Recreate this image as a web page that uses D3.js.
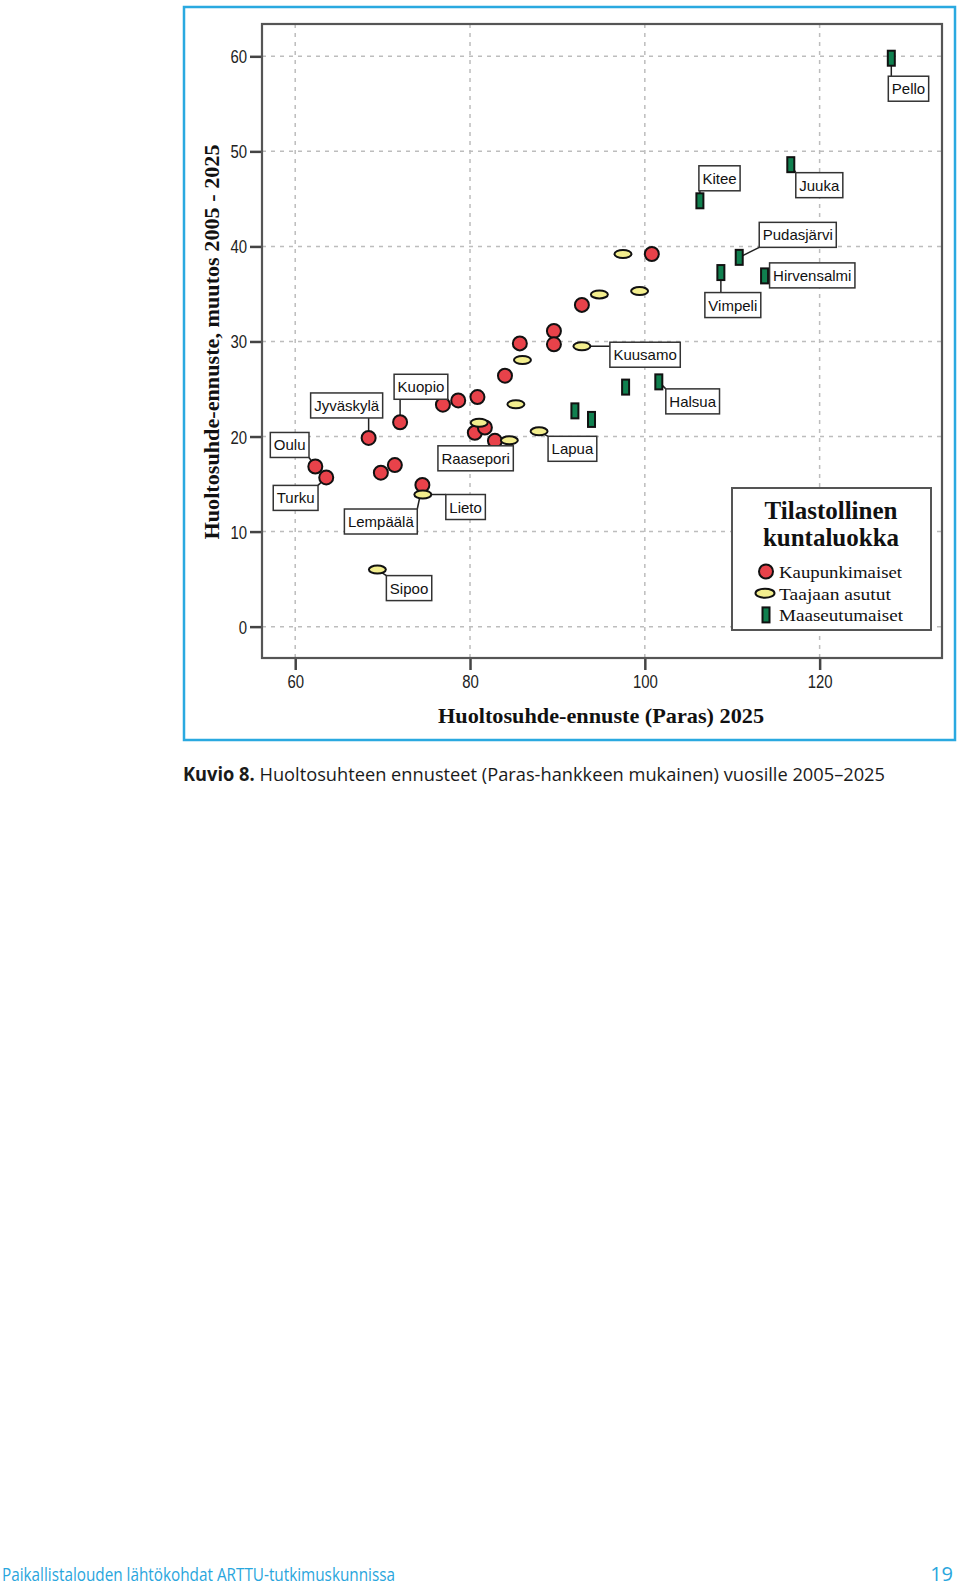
<!DOCTYPE html>
<html>
<head>
<meta charset="utf-8">
<script src="https://cdn.jsdelivr.net/npm/d3@7"></script>
<style>
  body { margin: 0; background: #fff; }
  svg { display: block; }
</style>
</head>
<body>
<div id="chart"></div>
<script>
// Kaupunkimaiset (red circles)
const urbanX = [62.3, 63.55, 68.4, 72.0, 69.8, 71.4, 74.55, 76.9, 78.65, 80.85, 80.55, 81.7, 82.85, 84.0, 85.7, 89.6, 89.6, 92.8, 100.8]
const urbanY = [16.85, 15.7, 19.85, 21.5, 16.2, 17.0, 14.9, 23.35, 23.8, 24.15, 20.4, 20.95, 19.55, 26.4, 29.8, 31.1, 29.7, 33.85, 39.2]
const urbanNames = ['Oulu', 'Turku', 'Jyväskylä', 'Kuopio', null, null, 'Lempäälä', null, null, null, null, null, 'Raasepori', null, null, null, null, null, null]

// Taajaan asutut (yellow ellipses)
const denseX = [69.4, 74.6, 81.05, 84.5, 85.25, 87.9, 86.0, 92.8, 94.8, 99.4, 97.5]
const denseY = [6.0, 13.9, 21.45, 19.6, 23.4, 20.55, 28.05, 29.5, 34.95, 35.3, 39.2]
const denseNames = ['Sipoo', 'Lieto', null, null, null, 'Lapua', null, 'Kuusamo', null, null, null]

// Maaseutumaiset (green bars)
const ruralX = [92.0, 93.9, 97.8, 101.6, 106.3, 108.7, 110.8, 113.7, 116.7, 128.2]
const ruralY = [22.7, 21.8, 25.2, 25.75, 44.8, 37.25, 38.85, 36.9, 48.6, 59.8]
const ruralNames = [null, null, null, 'Halsua', 'Kitee', 'Vimpeli', 'Pudasjärvi', 'Hirvensalmi', 'Juuka', 'Pello']

const xTicks = [60, 80, 100, 120]
const yTicks = [0, 10, 20, 30, 40, 50, 60]
const legendLabels = ['Kaupunkimaiset', 'Taajaan asutut', 'Maaseutumaiset']

// where each label box sits, relative to its point (px)
const labelPlace = {
  'Oulu': [-45, -34], 'Turku': [-53, 8], 'Jyväskylä': [-58, -45], 'Kuopio': [-6, -48],
  'Lempäälä': [-78, 24], 'Lieto': [23, 0], 'Sipoo': [9, 6], 'Raasepori': [-57, 5],
  'Lapua': [9, 5], 'Kuusamo': [28, -4], 'Halsua': [7, 7], 'Kitee': [-1, -35],
  'Juuka': [5, 8], 'Pudasjärvi': [20, -35], 'Vimpeli': [-16, 20], 'Hirvensalmi': [5, -13],
  'Pello': [-3, 18]
}

const W = 960, H = 1589
const plot = { left: 262, top: 24, right: 942, bottom: 658 }

const svg = d3.select('#chart').append('svg')
  .attr('width', W)
  .attr('height', H)
  .style('font-family', '"Liberation Sans", Arial, sans-serif')

// blue outer frame
svg.append('rect')
  .attr('x', 184).attr('y', 7).attr('width', 771).attr('height', 733)
  .attr('fill', 'none').attr('stroke', '#2aa9e0').attr('stroke-width', 2.5)

const x = d3.scaleLinear().domain([56.2, 134]).range([plot.left, plot.right])
const y = d3.scaleLinear().domain([-3.3, 63.4]).range([plot.bottom, plot.top])

// gridlines
const grid = svg.append('g')
grid.selectAll('.gx').data(xTicks).enter().append('line')
  .attr('x1', d => x(d)).attr('x2', d => x(d))
  .attr('y1', plot.top).attr('y2', plot.bottom)
  .attr('stroke', '#bdbdbd').attr('stroke-width', 1.5).attr('stroke-dasharray', '4,5')
grid.selectAll('.gy').data(yTicks).enter().append('line')
  .attr('x1', plot.left).attr('x2', plot.right)
  .attr('y1', d => y(d)).attr('y2', d => y(d))
  .attr('stroke', '#bdbdbd').attr('stroke-width', 1.5).attr('stroke-dasharray', '4,5')

// axes
const xAxis = svg.append('g')
  .attr('transform', 'translate(0,' + plot.bottom + ')')
  .call(d3.axisBottom(x).tickValues(xTicks).tickSize(12).tickPadding(5))
const yAxis = svg.append('g')
  .attr('transform', 'translate(' + plot.left + ',0)')
  .call(d3.axisLeft(y).tickValues(yTicks).tickSize(12).tickPadding(3))
;[xAxis, yAxis].forEach(a => {
  a.select('.domain').remove()
  a.selectAll('.tick line').attr('stroke', '#444').attr('stroke-width', 2.5)
  a.selectAll('.tick text')
    .attr('fill', '#222')
    .style('font-size', '18px')
    .style('font-family', '"Liberation Sans", Arial, sans-serif')
    .attr('textLength', d => String(d).length * 8.3)
    .attr('lengthAdjust', 'spacingAndGlyphs')
})
yAxis.selectAll('.tick text').attr('dy', '0.36em')

// plot frame
svg.append('rect')
  .attr('x', plot.left).attr('y', plot.top)
  .attr('width', plot.right - plot.left).attr('height', plot.bottom - plot.top)
  .attr('fill', 'none').attr('stroke', '#555').attr('stroke-width', 2.2)

// axis titles
svg.append('text')
  .attr('x', 601).attr('y', 723)
  .attr('text-anchor', 'middle')
  .attr('textLength', 326).attr('lengthAdjust', 'spacingAndGlyphs')
  .style('font-family', '"Liberation Serif", "Times New Roman", serif')
  .style('font-weight', 'bold').style('font-size', '22px').attr('fill', '#111')
  .text('Huoltosuhde-ennuste (Paras) 2025')

svg.append('text')
  .attr('transform', 'translate(219,342) rotate(-90)')
  .attr('text-anchor', 'middle')
  .attr('textLength', 395).attr('lengthAdjust', 'spacingAndGlyphs')
  .style('font-family', '"Liberation Serif", "Times New Roman", serif')
  .style('font-weight', 'bold').style('font-size', '22px').attr('fill', '#111')
  .text('Huoltosuhde-ennuste, muutos 2005 - 2025')

const leaderG = svg.append('g')
const markG = svg.append('g')
const labelG = svg.append('g')

const urban = urbanX.map((v, i) => ({ x: v, y: urbanY[i], name: urbanNames[i] }))
const dense = denseX.map((v, i) => ({ x: v, y: denseY[i], name: denseNames[i] }))
const rural = ruralX.map((v, i) => ({ x: v, y: ruralY[i], name: ruralNames[i] }))

const red = '#e8424a', yellow = '#f3ee8e', green = '#10804f'

markG.selectAll('.urban').data(urban).enter().append('circle')
  .attr('cx', d => x(d.x)).attr('cy', d => y(d.y)).attr('r', 7)
  .attr('fill', red).attr('stroke', '#111').attr('stroke-width', 2)
markG.selectAll('.dense').data(dense).enter().append('ellipse')
  .attr('cx', d => x(d.x)).attr('cy', d => y(d.y)).attr('rx', 8.5).attr('ry', 4)
  .attr('fill', yellow).attr('stroke', '#111').attr('stroke-width', 2)
markG.selectAll('.rural').data(rural).enter().append('rect')
  .attr('x', d => x(d.x) - 3.5).attr('y', d => y(d.y) - 7.5).attr('width', 7).attr('height', 15)
  .attr('fill', green).attr('stroke', '#111').attr('stroke-width', 2)

// point labels with leader lines
const labelled = urban.concat(dense, rural).filter(d => d.name)
labelled.forEach(d => {
  const px = x(d.x), py = y(d.y)
  const off = labelPlace[d.name]
  const bx = px + off[0], by = py + off[1], bh = 25
  const g = labelG.append('g')
  const rect = g.append('rect').attr('x', bx).attr('y', by).attr('height', bh)
    .attr('fill', '#fff').attr('stroke', '#333').attr('stroke-width', 1.5)
  const t = g.append('text').attr('x', bx + 3.5).attr('y', by + 18)
    .style('font-size', '15px').attr('fill', '#111').text(d.name)
  const bw = t.node().getComputedTextLength() + 7
  rect.attr('width', bw)
  const nx = Math.max(bx, Math.min(px, bx + bw))
  const ny = Math.max(by, Math.min(py, by + bh))
  leaderG.append('line')
    .attr('x1', px).attr('y1', py).attr('x2', nx).attr('y2', ny)
    .attr('stroke', '#222').attr('stroke-width', 1.5)
})

// legend
const lg = svg.append('g')
lg.append('rect').attr('x', 732).attr('y', 488).attr('width', 199).attr('height', 142)
  .attr('fill', '#fff').attr('stroke', '#555').attr('stroke-width', 2)
;['Tilastollinen', 'kuntaluokka'].forEach((s, i) => {
  lg.append('text').attr('x', 831).attr('y', 519 + i * 27)
    .attr('text-anchor', 'middle')
    .style('font-family', '"Liberation Serif", "Times New Roman", serif')
    .style('font-weight', 'bold').style('font-size', '25px').attr('fill', '#111')
    .text(s)
})
const legendWidths = [123, 112, 124]
legendLabels.forEach((s, i) => {
  const cy = 571.5 + i * 21.7
  if (i === 0) {
    lg.append('circle').attr('cx', 766).attr('cy', cy).attr('r', 7)
      .attr('fill', red).attr('stroke', '#111').attr('stroke-width', 2)
  } else if (i === 1) {
    lg.append('ellipse').attr('cx', 765).attr('cy', cy).attr('rx', 9.5).attr('ry', 4.5)
      .attr('fill', yellow).attr('stroke', '#111').attr('stroke-width', 2)
  } else {
    lg.append('rect').attr('x', 762.5).attr('y', cy - 7.5).attr('width', 7).attr('height', 15)
      .attr('fill', green).attr('stroke', '#111').attr('stroke-width', 2)
  }
  lg.append('text').attr('x', 779).attr('y', cy + 6.5)
    .attr('textLength', legendWidths[i]).attr('lengthAdjust', 'spacingAndGlyphs')
    .style('font-family', '"Liberation Serif", "Times New Roman", serif')
    .style('font-size', '17px').attr('fill', '#111')
    .text(s)
})

// caption
const cap = svg.append('text').attr('x', 183).attr('y', 781)
  .attr('textLength', 702).attr('lengthAdjust', 'spacingAndGlyphs')
  .style('font-family', '"Open Sans", sans-serif').style('font-size', '19px').attr('fill', '#1a1a1a')
cap.append('tspan').style('font-weight', 'bold').text('Kuvio 8.')
cap.append('tspan').text(' Huoltosuhteen ennusteet (Paras-hankkeen mukainen) vuosille 2005–2025')

// page footer
svg.append('text').attr('x', 2).attr('y', 1581)
  .attr('textLength', 393).attr('lengthAdjust', 'spacingAndGlyphs')
  .style('font-family', '"Open Sans", sans-serif').style('font-size', '18px').attr('fill', '#2aa6dd')
  .text('Paikallistalouden lähtökohdat ARTTU-tutkimuskunnissa')
svg.append('text').attr('x', 953).attr('y', 1581).attr('text-anchor', 'end')
  .style('font-family', '"Open Sans", sans-serif').style('font-size', '20px').attr('fill', '#2aa6dd')
  .text('19')
</script>
</body>
</html>
